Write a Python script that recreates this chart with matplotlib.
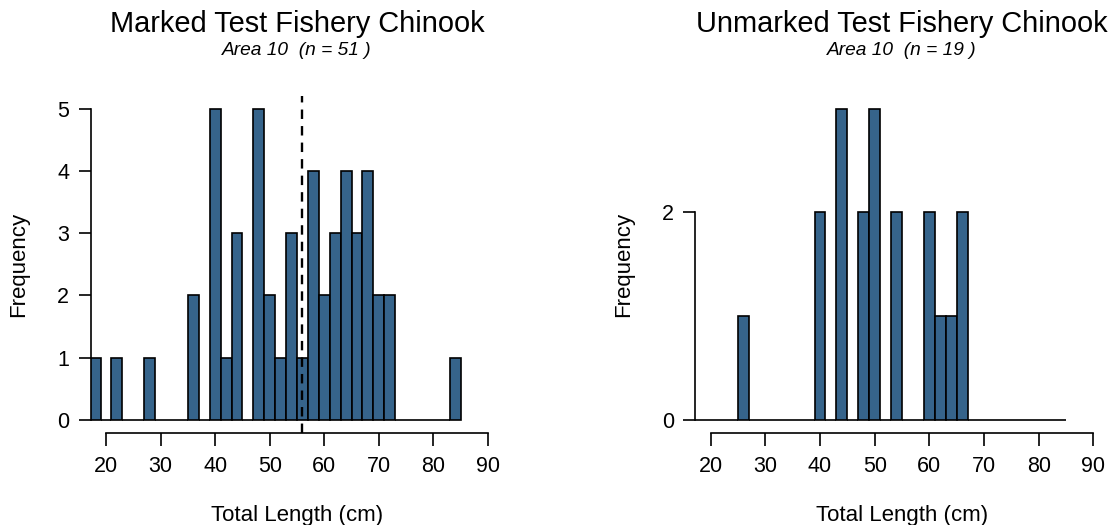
import matplotlib
matplotlib.use("Agg")
import matplotlib.pyplot as plt
import numpy as np

plt.rcParams['font.family'] = ['Liberation Sans', 'DejaVu Sans']

# Histogram bins (2 cm wide, from 17 to 85 cm)
bin_edges = list(range(17, 86, 2))
marked_counts = [1, 0, 1, 0, 0, 1, 0, 0, 0, 2, 0, 5, 1, 3, 0, 5, 2, 1, 3, 1,
                 4, 2, 3, 4, 3, 4, 2, 2, 0, 0, 0, 0, 0, 1]
unmarked_counts = [0, 0, 0, 0, 1, 0, 0, 0, 0, 0, 0, 2, 0, 3, 0, 2, 3, 0, 2, 0,
                   0, 2, 1, 1, 2, 0, 0, 0, 0, 0, 0, 0, 0, 0]
marked_mean = 55.9
x_ticks = [20, 30, 40, 50, 60, 70, 80, 90]
marked_yticks = [0, 1, 2, 3, 4, 5]
unmarked_yticks = [0, 2]
titles = ["Marked Test Fishery Chinook", "Unmarked Test Fishery Chinook"]
subtitles = ["Area 10  (n = 51 )", "Area 10  (n = 19 )"]
xlabel = "Total Length (cm)"
ylabel = "Frequency"

BAR_COLOR = "#36648B"
W, H = 1114, 525
DPI = 100
fig = plt.figure(figsize=(W / DPI, H / DPI), dpi=DPI)

def px_rect(l, t, r, b):
    return [l / W, 1 - b / H, (r - l) / W, (b - t) / H]

ax1 = fig.add_axes(px_rect(90.7, 96.2, 503.3, 432.5))
ax2 = fig.add_axes(px_rect(695.4, 96.2, 1108.6, 432.5))

lefts = np.array(bin_edges[:-1])

def draw(ax, counts, yticks, ymax, title, subtitle, cx, ylab_x):
    ax.bar(lefts, counts, width=2, align='edge', color=BAR_COLOR,
           edgecolor='black', linewidth=1.2, clip_on=True)
    ax.set_xlim(17.2, 92.8)
    ext = 0.04 * ymax
    ax.set_ylim(-ext, ymax + ext)
    for s in ['top', 'right']:
        ax.spines[s].set_visible(False)
    ax.spines['left'].set_bounds(yticks[0], yticks[-1])
    ax.spines['bottom'].set_bounds(x_ticks[0], x_ticks[-1])
    for s in ['left', 'bottom']:
        ax.spines[s].set_linewidth(1.2)
    ax.set_xticks(x_ticks)
    ax.set_yticks(yticks)
    ax.tick_params(axis='both', direction='out', length=9, width=1.2,
                   labelsize=15.5, colors='black')
    ax.tick_params(axis='x', pad=8)
    ax.tick_params(axis='y', pad=6.5)
    fig.text(cx / W, 1 - 521 / H, xlabel, fontsize=16, ha='center',
             va='baseline')
    fig.text(ylab_x / W, 1 - 264.4 / H, ylabel, fontsize=16, ha='center',
             va='center', rotation=90)
    fig.text(cx / W, 1 - 32 / H, title, fontsize=20.9, ha='center',
             va='baseline')
    fig.text(cx / W, 1 - 55 / H, subtitle, fontsize=13.8, style='italic',
             ha='center', va='baseline')

draw(ax1, marked_counts, marked_yticks, 5, titles[0], subtitles[0], 297, 19)
draw(ax2, unmarked_counts, unmarked_yticks, 3, titles[1], subtitles[1], 902, 624)

ax1.axvline(marked_mean, color='black', linewidth=1.7, dashes=(4, 3))

fig.savefig("out.png", dpi=DPI)
